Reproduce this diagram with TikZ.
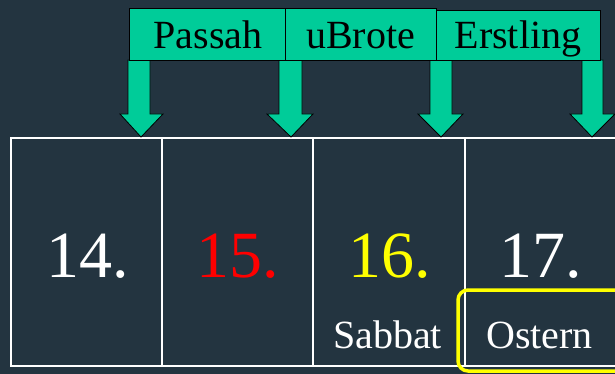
\documentclass[tikz,border=0pt]{standalone}
\usepackage{fontspec}
\setmainfont{Liberation Serif}
\newfontfamily\tms{Liberation Serif}
\definecolor{bg}{RGB}{35,52,64}
\definecolor{grn}{RGB}{0,204,153}
\definecolor{yel}{RGB}{255,255,0}
\begin{document}
\begin{tikzpicture}[x=1pt,y=-1pt,
  daybox/.style={draw=white,line width=1.6pt,minimum width=151pt,minimum height=228pt,inner sep=0pt},
  lab/.style={draw=black,line width=0.8pt,fill=grn,minimum height=52pt,inner sep=0pt},
  labtxt/.style={anchor=base,inner sep=0pt,font=\tms\fontsize{40}{40}\selectfont},
  num/.style={anchor=base,font=\tms\fontsize{66}{66}\selectfont,inner sep=0pt},
  sub/.style={anchor=base,font=\tms\fontsize{40}{40}\selectfont,text=white,inner sep=0pt},
  garrow/.style={fill=grn,draw=black,line width=0.8pt,line join=miter}]
\fill[bg] (0,0) rectangle (615,374);
\useasboundingbox (0,0) rectangle (615,374);
% day boxes
\node[daybox] (d14) at (86.5,252) {};
\node[daybox] (d15) at (237.5,252) {};
\node[daybox] (d16) at (389,252) {};
\node[daybox] (d17) at (540.5,252) {};
% numbers
\node[num,text=white] (n14) at (88,277) {14.};
\node[num,text=red] (n15) at (238,277) {15.};
\node[num,text=yel] (n16) at (390,277) {16.};
\node[num,text=white] (n17) at (541,277) {17.};
\node[sub] (sab) at (387.5,348) {Sabbat};
\node[sub] (ost) at (539.5,348) {Ostern};
\draw[yel,line width=3.5pt,rounded corners=10pt] (458,290) rectangle (630,371);
% arrows
\foreach \xl/\xr/\hl/\hr/\t/\nm in {128/150/120/163/141/a1, 279/302/267/313/291/a2, 430/452/418/463/441/a3, 582/603/570/615/592/a4}{
  \coordinate (\nm) at (\t,137);
  \draw[garrow] (\xl,60) -- (\xr,60) -- (\xr,114) -- (\hr,114) -- (\nm) -- (\hl,114) -- (\xl,114) -- cycle;
}
% labels
\node[lab,minimum width=156pt] (pas) at (207,34) {};
\node[lab,minimum width=151pt] (ubr) at (360.5,34) {};
\node[lab,minimum width=164pt,minimum height=50pt] (ers) at (518,35) {};
\node[labtxt] (tpas) at (208,49) {Passah};
\node[labtxt] (tubr) at (360.5,49) {uBrote};
\node[labtxt] (ters) at (518,49) {Erstling};
\end{tikzpicture}
\end{document}
